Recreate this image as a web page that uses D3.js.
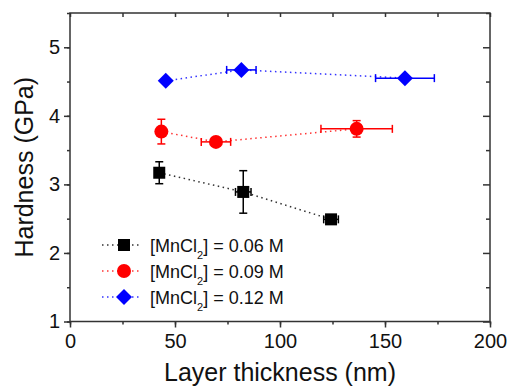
<!DOCTYPE html>
<html><head><meta charset="utf-8">
<script src="https://cdn.jsdelivr.net/npm/d3@7"></script>
<style>body{margin:0;background:#fff}svg{display:block}text{font-family:"Liberation Sans",Arial,sans-serif}</style>
</head><body>
<svg id="c" width="509" height="389"></svg>
<script>
const seriesNames = ["0.06 M", "0.09 M", "0.12 M"];
const seriesColors = ["#000000", "#ff0000", "#0000ff"];
const seriesShapes = ["square", "circle", "diamond"];
const thick006 = [42.5, 82.5, 124.3];
const hard006 = [3.17, 2.89, 2.49];
const xErr006 = [1.5, 3.7, 3.5];
const yErr006 = [0.16, 0.31, 0.03];
const thick009 = [43.5, 69.5, 136.5];
const hard009 = [3.77, 3.62, 3.81];
const xErr009 = [0, 7, 17];
const yErr009 = [0.18, 0.05, 0.12];
const thick012 = [45.6, 81.6, 159.5];
const hard012 = [4.51, 4.67, 4.55];
const xErr012 = [0, 7, 14];
const yErr012 = [0, 0, 0];
const xTicks = [0, 50, 100, 150, 200];
const yTicks = [1, 2, 3, 4, 5];

const series = [
  {x: thick006, y: hard006, ex: xErr006, ey: yErr006},
  {x: thick009, y: hard009, ex: xErr009, ey: yErr009},
  {x: thick012, y: hard012, ex: xErr012, ey: yErr012}
];

const svg = d3.select("#c");
const L = 70, R = 490, T = 13, B = 321.5;
const x = d3.scaleLinear().domain([0, 200]).range([L, R]);
const y = d3.scaleLinear().domain([1, 5.5]).range([B, T]);
const axisColor = "#333";

// axes
const minorX = d3.range(0, 201, 25), minorY = d3.range(1, 5.51, 0.5);
function styleAxis(g){
  g.select(".domain").remove();
  g.selectAll("line").attr("stroke", axisColor).attr("stroke-width", 1.5);
  g.selectAll("text").attr("fill", "#111").style("font-size", "20px").style("font-family", '"Liberation Sans",Arial,sans-serif');
}
svg.append("g").attr("transform", `translate(0,${B})`)
  .call(d3.axisBottom(x).tickValues(minorX).tickSize(3).tickFormat(""))
  .call(styleAxis);
svg.append("g").attr("transform", `translate(0,${B})`)
  .call(d3.axisBottom(x).tickValues(xTicks).tickSize(6).tickPadding(6).tickFormat(d3.format("d")))
  .call(styleAxis);
svg.append("g").attr("transform", `translate(0,${T})`)
  .call(d3.axisBottom(x).tickValues(minorX).tickSize(4).tickFormat(""))
  .call(styleAxis);
svg.append("g").attr("transform", `translate(${L},0)`)
  .call(d3.axisLeft(y).tickValues(minorY).tickSize(3).tickFormat(""))
  .call(styleAxis);
svg.append("g").attr("transform", `translate(${L},0)`)
  .call(d3.axisLeft(y).tickValues(yTicks).tickSize(6).tickPadding(4).tickFormat(d3.format("d")))
  .call(styleAxis);
svg.append("g").attr("transform", `translate(${R},0)`)
  .call(d3.axisLeft(y).tickValues(minorY).tickSize(4).tickFormat(""))
  .call(g => { styleAxis(g); g.selectAll(".tick").filter(d => Number.isInteger(d)).select("line").attr("x2", -7); });

svg.append("rect").attr("x", L).attr("y", T).attr("width", R - L).attr("height", B - T)
  .attr("fill", "none").attr("stroke", axisColor).attr("stroke-width", 1.5);

// titles
svg.append("text").attr("x", (L + R) / 2).attr("y", 381).attr("text-anchor", "middle")
  .style("font-size", "25px").attr("fill", "#111").text("Layer thickness (nm)");
svg.append("text").attr("transform", `translate(33,${(T + B) / 2}) rotate(-90)`).attr("text-anchor", "middle")
  .style("font-size", "25px").attr("fill", "#111").text("Hardness (GPa)");

function marker(g, shape, cx, cy, color){
  if (shape === "square") g.append("rect").attr("x", cx - 6).attr("y", cy - 6).attr("width", 12).attr("height", 12).attr("fill", color);
  else if (shape === "circle") g.append("circle").attr("cx", cx).attr("cy", cy).attr("r", 7).attr("fill", color);
  else g.append("path").attr("d", `M${cx},${cy - 8}L${cx + 8},${cy}L${cx},${cy + 8}L${cx - 8},${cy}Z`).attr("fill", color);
}

series.forEach((s, i) => {
  const c = seriesColors[i];
  const g = svg.append("g");
  const pts = s.x.map((v, j) => [v, s.y[j]]);
  g.append("path").attr("d", d3.line().x(d => x(d[0])).y(d => y(d[1]))(pts))
    .attr("fill", "none").attr("stroke", c).attr("stroke-width", 1.5).attr("stroke-dasharray", "1.5,3.5").attr("opacity", 0.8);
  pts.forEach((p, j) => {
    const px = x(p[0]), py = y(p[1]);
    if (s.ey[j] > 0) {
      const y1 = y(p[1] + s.ey[j]), y2 = y(p[1] - s.ey[j]);
      g.append("line").attr("x1", px).attr("x2", px).attr("y1", y1).attr("y2", y2).attr("stroke", c).attr("stroke-width", 1.5);
      [y1, y2].forEach(yy => g.append("line").attr("x1", px - 4).attr("x2", px + 4).attr("y1", yy).attr("y2", yy).attr("stroke", c).attr("stroke-width", 1.5));
    }
    if (s.ex[j] > 0) {
      const x1 = x(p[0] - s.ex[j]), x2 = x(p[0] + s.ex[j]);
      g.append("line").attr("x1", x1).attr("x2", x2).attr("y1", py).attr("y2", py).attr("stroke", c).attr("stroke-width", 1.5);
      [x1, x2].forEach(xx => g.append("line").attr("x1", xx).attr("x2", xx).attr("y1", py - 4).attr("y2", py + 4).attr("stroke", c).attr("stroke-width", 1.5));
    }
    marker(g, seriesShapes[i], px, py, c);
  });
});

// legend
const legY = [245, 271, 297];
seriesNames.forEach((n, i) => {
  const c = seriesColors[i];
  const g = svg.append("g");
  g.append("line").attr("x1", 102).attr("x2", 142).attr("y1", legY[i]).attr("y2", legY[i])
    .attr("stroke", c).attr("stroke-width", 1.5).attr("stroke-dasharray", "1.5,3.5").attr("opacity", 0.8);
  marker(g, seriesShapes[i], 124, legY[i], c);
  const t = g.append("text").attr("x", 150).attr("y", legY[i] + 6.5).style("font-size", "18px").attr("fill", "#111");
  t.append("tspan").text("[MnCl");
  t.append("tspan").attr("dy", 7).style("font-size", "11px").text("2");
  t.append("tspan").attr("dy", -7).text("] = " + n);
});
</script>
</body></html>
